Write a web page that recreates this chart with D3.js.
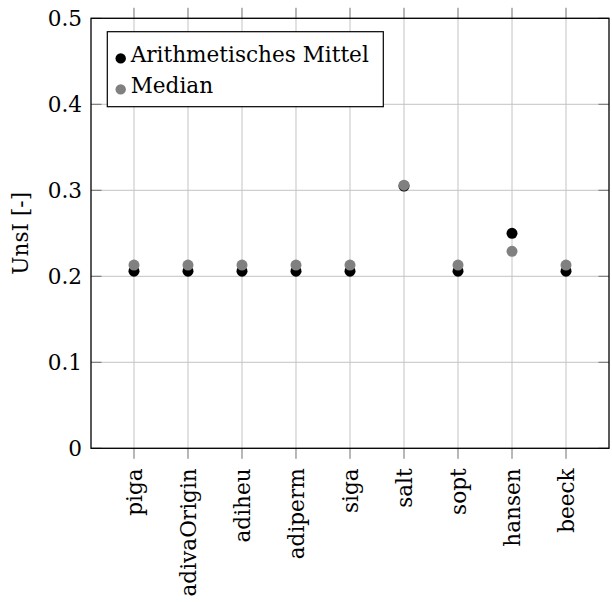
<!DOCTYPE html>
<html>
<head>
<meta charset="utf-8">
<script src="https://cdn.jsdelivr.net/npm/d3@7"></script>
<style>
  html, body { margin: 0; padding: 0; background: #fff; }
  svg { display: block; }
  text { font-family: "DejaVu Serif", serif; fill: #000; }
</style>
</head>
<body>
<script>
// Unsicherheitsindex je Verfahren: arithmetisches Mittel und Median
const categories = ["piga", "adivaOrigin", "adiheu", "adiperm", "siga", "salt", "sopt", "hansen", "beeck"];
const meanValues = [0.206, 0.206, 0.206, 0.206, 0.206, 0.305, 0.206, 0.250, 0.206];
const medianValues = [0.213, 0.213, 0.213, 0.213, 0.213, 0.306, 0.213, 0.229, 0.213];
const yTicks = [0, 0.1, 0.2, 0.3, 0.4, 0.5];
const yTickLabels = ["0", "0.1", "0.2", "0.3", "0.4", "0.5"];
const seriesNames = ["Arithmetisches Mittel", "Median"];
const seriesColors = ["#000000", "#808080"];

(function () {
const W = 612, H = 602;
const pl = 91, pr = 609, pt = 18.3, pb = 448.3;
const fontSize = 21.6;

const svg = d3.select("body").append("svg").attr("width", W).attr("height", H);

const x = d3.scalePoint().domain(categories).range([pl, pr]).padding(0.796);
const y = d3.scaleLinear().domain([0, 0.5]).range([pb, pt]);

// grid
const grid = svg.append("g").attr("stroke", "#c4c4c4").attr("stroke-width", 1);
grid.selectAll("line.v").data(categories).join("line").attr("class", "v")
  .attr("x1", d => x(d)).attr("x2", d => x(d)).attr("y1", pt).attr("y2", pb);
grid.selectAll("line.h").data(yTicks).join("line").attr("class", "h")
  .attr("x1", pl).attr("x2", pr).attr("y1", d => y(d)).attr("y2", d => y(d));

// ticks
const tickLen = 10.5;
const ticks = svg.append("g").attr("stroke", "#707070").attr("stroke-width", 1);
categories.forEach(c => {
  ticks.append("line").attr("x1", x(c)).attr("x2", x(c)).attr("y1", pb).attr("y2", pb + tickLen);
  ticks.append("line").attr("x1", x(c)).attr("x2", x(c)).attr("y1", pt).attr("y2", pt - tickLen);
});
yTicks.forEach(v => {
  ticks.append("line").attr("x1", pl).attr("x2", pl + tickLen).attr("y1", y(v)).attr("y2", y(v));
  ticks.append("line").attr("x1", pr).attr("x2", pr - tickLen).attr("y1", y(v)).attr("y2", y(v));
});

// frame
svg.append("rect").attr("x", pl).attr("y", pt).attr("width", pr - pl).attr("height", pb - pt)
  .attr("fill", "none").attr("stroke", "#000").attr("stroke-width", 1.3);

// y tick labels
svg.append("g").selectAll("text").data(yTicks).join("text")
  .attr("x", pl - 9).attr("y", d => y(d)).attr("dy", "0.36em")
  .attr("text-anchor", "end").attr("font-size", fontSize)
  .text((d, i) => yTickLabels[i]);

// x tick labels, rotated
svg.append("g").selectAll("text").data(categories).join("text")
  .attr("transform", d => `translate(${x(d)},${pb + 20}) rotate(-90)`)
  .attr("dy", "0.36em").attr("text-anchor", "end").attr("font-size", fontSize)
  .text(d => d);

// y axis title
svg.append("text")
  .attr("transform", `translate(20,${(pt + pb) / 2}) rotate(-90)`)
  .attr("dy", "0.36em").attr("text-anchor", "middle").attr("font-size", fontSize)
  .text("UnsI [-]");

// markers
const r = 5.5;
svg.append("g").selectAll("circle").data(meanValues).join("circle")
  .attr("cx", (d, i) => x(categories[i])).attr("cy", d => y(d)).attr("r", r).attr("fill", seriesColors[0]);
svg.append("g").selectAll("circle").data(medianValues).join("circle")
  .attr("cx", (d, i) => x(categories[i])).attr("cy", d => y(d)).attr("r", r).attr("fill", seriesColors[1]);

// legend
const lg = svg.append("g");
lg.append("rect").attr("x", 107.3).attr("y", 31.7).attr("width", 276).attr("height", 75)
  .attr("fill", "#fff").attr("stroke", "#000").attr("stroke-width", 1.2);
seriesNames.forEach((name, i) => {
  const by = 62 + i * 31;
  lg.append("circle").attr("cx", 120.7).attr("cy", by - 3.6).attr("r", 5.2).attr("fill", seriesColors[i]);
  lg.append("text").attr("x", 130.7).attr("y", by).attr("font-size", fontSize).text(name);
});
})();
</script>
</body>
</html>
